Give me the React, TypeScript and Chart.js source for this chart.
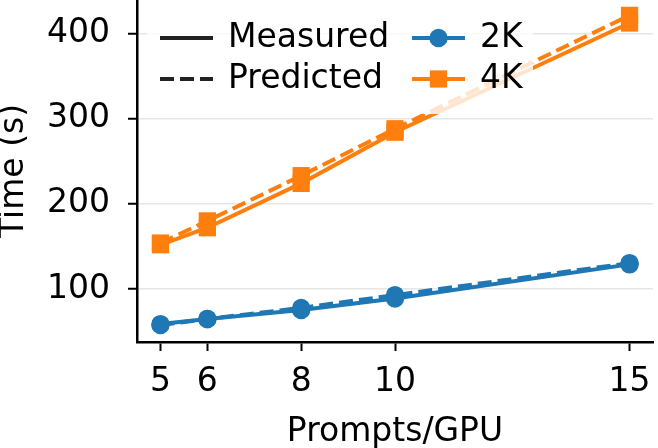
import { useEffect, useRef } from 'react';
import { Chart, registerables } from 'chart.js';

Chart.register(...registerables);

const FONT = '"DejaVu Sans", sans-serif';
const FONT_SIZE = 33;

// Prompts per GPU on the x axis
const promptsPerGpu = [5, 6, 8, 10, 15];
const xTicks = [5, 6, 8, 10, 15];
const yTicks = [100, 200, 300, 400];

// Generation time in seconds
const measured2K = [59, 65, 75.5, 89, 129];
const predicted2K = [58, 65, 78, 93, 130.5];
const measured4K = [152, 172, 224, 284, 412];
const predicted4K = [154, 180, 233, 288, 421];

const BLUE = '#1f77b4';
const ORANGE = '#ff7f0e';
const DASH = [14, 6];
const LINE_W = 4;

function series(label: string, values: number[], color: string, style: string, dashed: boolean) {
  return {
    label,
    data: promptsPerGpu.map((x, i) => ({ x, y: values[i] })),
    borderColor: color,
    backgroundColor: color,
    borderWidth: LINE_W,
    borderDash: dashed ? DASH : [],
    pointStyle: style,
    pointRadius: style === 'rect' ? 12.2 : 9.2,
    pointBorderWidth: 0,
    pointBackgroundColor: color,
    pointBorderColor: color,
    tension: 0,
    fill: false,
    clip: false,
  };
}

// Two-column legend: line style (measured / predicted) and resolution (2K / 4K)
const legendPlugin = {
  id: 'styleLegend',
  afterDatasetsDraw(chart: any) {
    const { ctx, chartArea } = chart;
    const boxLeft = chartArea.left + 10;
    const boxTop = chartArea.top + 8;
    const boxW = 386;
    const boxH = 106;
    ctx.save();
    ctx.fillStyle = 'rgba(255,255,255,0.8)';
    ctx.beginPath();
    const r = 6;
    ctx.moveTo(boxLeft + r, boxTop);
    ctx.arcTo(boxLeft + boxW, boxTop, boxLeft + boxW, boxTop + boxH, r);
    ctx.arcTo(boxLeft + boxW, boxTop + boxH, boxLeft, boxTop + boxH, r);
    ctx.arcTo(boxLeft, boxTop + boxH, boxLeft, boxTop, r);
    ctx.arcTo(boxLeft, boxTop, boxLeft + boxW, boxTop, r);
    ctx.closePath();
    ctx.fill();

    const handleLen = 53;
    const col1 = boxLeft + 13;
    const col2 = col1 + 252;
    const row1 = boxTop + 30;
    const row2 = boxTop + 71;
    const textGap = 15;

    const drawHandle = (x: number, y: number, color: string, dashed: boolean) => {
      ctx.strokeStyle = color;
      ctx.lineWidth = LINE_W;
      ctx.setLineDash(dashed ? DASH : []);
      ctx.beginPath();
      ctx.moveTo(x, y);
      ctx.lineTo(x + handleLen, y);
      ctx.stroke();
      ctx.setLineDash([]);
    };

    drawHandle(col1, row1, '#222', false);
    drawHandle(col1, row2, '#222', true);
    drawHandle(col2, row1, BLUE, false);
    drawHandle(col2, row2, ORANGE, false);

    const mid = col2 + handleLen / 2;
    ctx.fillStyle = BLUE;
    ctx.beginPath();
    ctx.arc(mid, row1, 9.2, 0, Math.PI * 2);
    ctx.fill();
    ctx.fillStyle = ORANGE;
    const half = 12.2 * Math.SQRT1_2;
    ctx.fillRect(mid - half, row2 - half, half * 2, half * 2);

    ctx.fillStyle = '#000';
    ctx.font = `${FONT_SIZE}px ${FONT}`;
    ctx.textBaseline = 'middle';
    ctx.textAlign = 'left';
    ctx.fillText('Measured', col1 + handleLen + textGap, row1);
    ctx.fillText('Predicted', col1 + handleLen + textGap, row2);
    ctx.fillText('2K', col2 + handleLen + textGap, row1);
    ctx.fillText('4K', col2 + handleLen + textGap, row2);
    ctx.restore();
  },
};

export default function App() {
  const canvasRef = useRef<HTMLCanvasElement | null>(null);

  useEffect(() => {
    const canvas = canvasRef.current;
    if (!canvas) return;
    const chart = new Chart(canvas, {
      type: 'line',
      data: {
        datasets: [
          series('2K Measured', measured2K, BLUE, 'circle', false),
          series('2K Predicted', predicted2K, BLUE, 'circle', true),
          series('4K Measured', measured4K, ORANGE, 'rect', false),
          series('4K Predicted', predicted4K, ORANGE, 'rect', true),
        ] as any,
      },
      options: {
        responsive: false,
        animation: false,
        devicePixelRatio: 1,
        layout: { autoPadding: false, padding: { left: 0, right: 5, top: 0, bottom: 0 } },
        plugins: {
          legend: { display: false },
          tooltip: { enabled: false },
        },
        scales: {
          x: {
            type: 'linear',
            min: 4.5,
            max: 15.5,
            afterBuildTicks: (s: any) => {
              s.ticks = xTicks.map((v) => ({ value: v }));
            },
            afterFit: (s: any) => {
              s.height = 106;
              s.paddingLeft = 0;
              s.paddingRight = 0;
            },
            grid: {
              drawOnChartArea: false,
              tickLength: 9,
              tickWidth: 2,
              tickColor: '#000',
            },
            border: { display: true, color: '#000', width: 2.5 },
            ticks: {
              color: '#000',
              font: { family: FONT, size: FONT_SIZE },
              padding: 12,
              maxRotation: 0,
              autoSkip: false,
            },
            title: {
              display: true,
              text: 'Prompts/GPU',
              color: '#000',
              font: { family: FONT, size: FONT_SIZE, lineHeight: 1 },
              padding: { top: 0, bottom: -1 },
            },
          },
          y: {
            type: 'linear',
            min: 38,
            max: 439,
            afterBuildTicks: (s: any) => {
              s.ticks = yTicks.map((v) => ({ value: v }));
            },
            afterFit: (s: any) => {
              s.width = 137;
              s.paddingTop = 0;
              s.paddingBottom = 0;
            },
            grid: {
              color: '#e6e6e6',
              lineWidth: 1.5,
              tickLength: 9,
              tickWidth: 2,
              tickColor: '#000',
            },
            border: { display: true, color: '#000', width: 2.5 },
            ticks: {
              color: '#000',
              font: { family: FONT, size: FONT_SIZE },
              padding: 18,
            },
            title: {
              display: true,
              text: 'Time (s)',
              color: '#000',
              font: { family: FONT, size: FONT_SIZE, lineHeight: 1 },
              padding: { top: -2, bottom: 0 },
            },
          },
        },
      } as any,
      plugins: [legendPlugin],
    });
    return () => chart.destroy();
  }, []);

  return (
    <div style={{ position: 'absolute', left: 0, top: 0, width: 658, height: 448, background: '#fff' }}>
      <canvas ref={canvasRef} width={658} height={448} style={{ display: 'block' }} />
    </div>
  );
}
